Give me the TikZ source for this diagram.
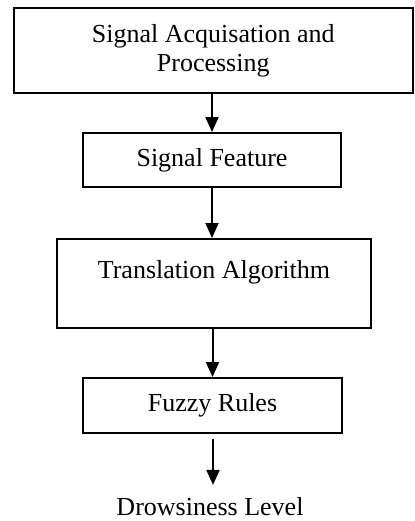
\documentclass[tikz,border=0pt]{standalone}
\usepackage{fontspec}
\setmainfont{Liberation Serif}
\usetikzlibrary{arrows.meta}

\begin{document}
\begin{tikzpicture}[x=0.5pt, y=-0.5pt,
                        blk/.style={draw, line width=1pt, inner sep=0pt, align=center,
                            font=\fontsize{13}{14.5}\selectfont},
                        flow/.style={line width=1pt, -{Triangle[width=6.5pt,length=7.5pt]}}]
                        \useasboundingbox (0,0) rectangle (414,521);

                        \node[blk, minimum width=199.25pt, minimum height=42.5pt] (acq) at (213.25,50.5)
                            {Signal Acquisation and\\Processing};
                        \node[blk, minimum width=129pt, minimum height=27pt] (feat) at (212,160)
                            {Signal Feature};
                        \node[blk, minimum width=157pt, minimum height=44.5pt] (alg) at (214,283.5)
                            {Translation Algorithm\\\mbox{}};
                        \node[blk, minimum width=129.5pt, minimum height=27.5pt] (fuzzy) at (212.5,405.5)
                            {Fuzzy Rules};
                        \node[font=\fontsize{13}{14.5}\selectfont, anchor=base] (level) at (210,515)
                            {Drowsiness Level};

                        \coordinate (out) at (213,439);

                        \draw[flow] (acq.south -| feat) -- (feat);
                        \draw[flow] (feat) -- (alg.north -| feat);
                        \draw[flow] (alg.south -| fuzzy) -- (fuzzy);
                        \draw[flow, shorten >=2.5pt] (out) -- (out |- level.north);
                    \end{tikzpicture}
\end{document}
